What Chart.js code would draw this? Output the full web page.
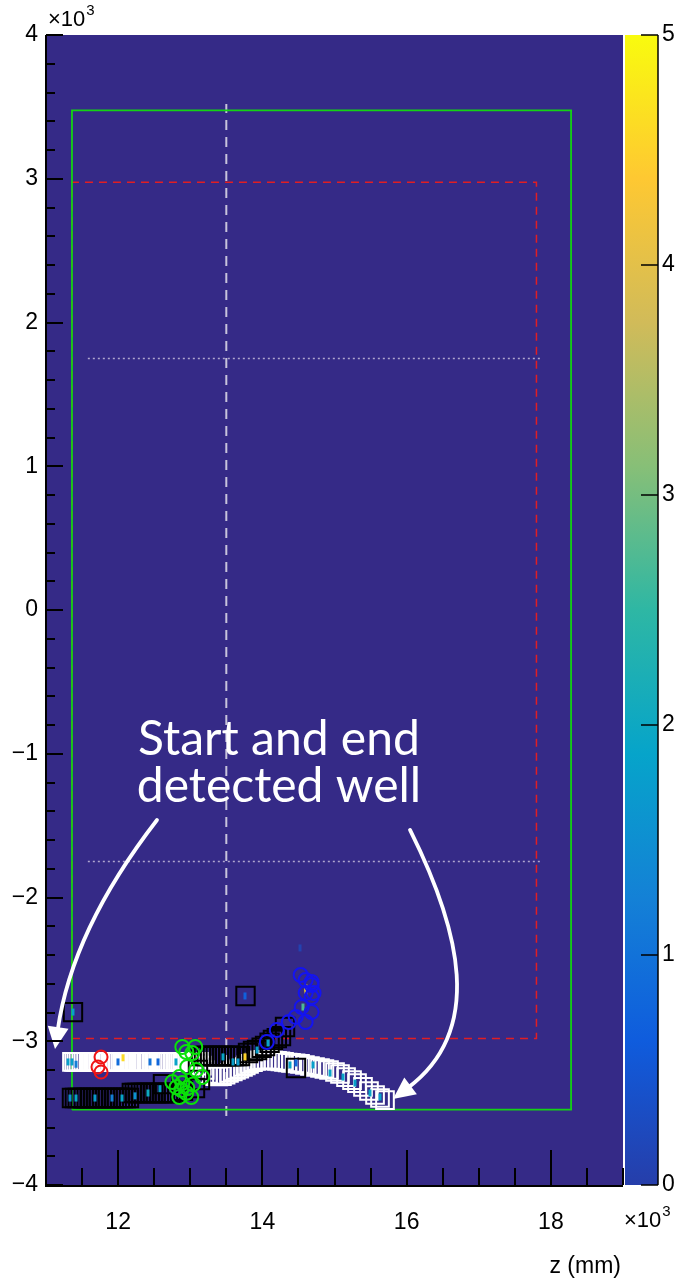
<!DOCTYPE html>
<html><head><meta charset="utf-8">
<script src="https://cdn.jsdelivr.net/npm/chart.js@4/dist/chart.umd.min.js"></script>
<style>html,body{margin:0;padding:0;background:#fff;}canvas{display:block;}</style>
</head><body>
<canvas id="c" width="678" height="1278"></canvas>
<script>
// ---------- axis ranges & tick labels ----------
const zRange = [11000, 19000];
const yRange = [-4000, 4000];
const colorRange = [0, 5000];
const xMajorTicks = [12000, 14000, 16000, 18000];
const yMajorTicks = [-4000, -3000, -2000, -1000, 0, 1000, 2000, 3000, 4000];
const colorTicks = [0, 1000, 2000, 3000, 4000, 5000];

// ---------- white open squares (track 1) ----------
const whiteZ = [11360,11390,11420,11450,11490,11520,11555,11590,11620,11655,11690,11720,11755,11790,11820,11855,11890,11920,11955,11990,12030,12060,12090,12120,12155,12190,12220,12255,12290,12320,12355,12390,12420,12480,12520,12560,12590,12620,12655,12690,12720,12755,12790,12830,12860,12890,12920,12955,12990,13020,13055,13090,13120,13160,13200,
  13246,13300,13343,13390,13440,13490,13537,13590,13634,13680,13731,13770,13815,
  13870,13912,13960,14009,14060,14106,14150,14203,14250,14300,14350,14397,14460,
  14522,14590,14660,14730,14799,14860,14924,15007,15076,15160,15243,15312,15395,15478,15562,15631,15700];
const whiteY = [-3144,-3144,-3144,-3144,-3144,-3144,-3144,-3144,-3144,-3144,-3144,-3144,-3144,-3144,-3144,-3144,-3144,-3144,-3144,-3144,-3144,-3144,-3144,-3144,-3144,-3144,-3144,-3144,-3144,-3144,-3144,-3144,-3144,-3144,-3144,-3144,-3144,-3144,-3144,-3144,-3144,-3144,-3144,-3144,-3144,-3144,-3144,-3144,-3144,-3144,-3144,-3144,-3144,-3170,-3200,
  -3228,-3236,-3242,-3244,-3242,-3232,-3221,-3210,-3200,-3190,-3179,-3168,-3158,
  -3146,-3137,-3133,-3130,-3130,-3130,-3133,-3137,-3140,-3144,-3148,-3151,-3154,
  -3158,-3165,-3172,-3179,-3186,-3193,-3200,-3214,-3228,-3249,-3270,-3291,-3318,-3346,-3374,-3395,-3409];

// ---------- black open squares (track 2) ----------
const blackZ = [11360,11400,11440,11480,11525,11565,11605,11650,11690,11730,11775,11815,11855,11900,11940,11980,12025,12065,12105,12150,
  12190,12230,12270,12315,12355,12395,12440,12480,12520,12565,12605,12645,12690,12730,12770,12622,
  12900,13066,13135,13107,
  13150,13190,13230,13275,13315,13355,13400,13440,13480,13525,13565,13605,13650,13690,
  13801,13870,13926,13990,14037,14100,14147,14200,14258,14314,
  11374,13766,14466];
const blackY = [-3395,-3395,-3395,-3395,-3395,-3395,-3395,-3395,-3395,-3395,-3395,-3395,-3395,-3395,-3395,-3395,-3395,-3395,-3395,-3395,
  -3360,-3360,-3360,-3360,-3360,-3360,-3360,-3360,-3360,-3360,-3360,-3360,-3360,-3360,-3360,-3298,
  -3345,-3325,-3270,-3200,
  -3103,-3103,-3103,-3103,-3103,-3103,-3103,-3103,-3103,-3103,-3103,-3103,-3103,-3103,
  -3082,-3068,-3061,-3045,-3033,-3010,-2991,-2978,-2964,-2901,
  -2797,-2685,-3186];

// ---------- circles ----------
const redZ = [11763, 11721, 11763];
const redY = [-3110, -3179, -3214];
const greenZ = [12890,13069,13028,12945,12959,13083,13166,12752,12848,12890,12876,12945,13014,12848,12959,12810,13040];
const greenY = [-3040,-3040,-3082,-3075,-3179,-3200,-3249,-3284,-3249,-3291,-3339,-3360,-3388,-3388,-3325,-3320,-3300];
const blueZ = [14531,14600,14683,14683,14710,14600,14683,14545,14683,14600,14462,14366,14200,14062];
const blueY = [-2539,-2574,-2588,-2609,-2664,-2664,-2692,-2762,-2797,-2866,-2831,-2866,-2922,-3005];

// ---------- histogram cells (z, y, counts) ----------
const hitZ = [11305,11360,11416,11998,12068,12442,12553,12802,
  11333,11416,11679,11915,12054,12234,12414,12580,11374,
  13593,13759,13926,14078,13454,13662,
  14383,14466,14702,14938,15118,15284,15492,15631,
  14563,14605,14605,13759,14522];
const hitY = [-3144,-3144,-3160,-3144,-3115,-3144,-3144,-3144,
  -3395,-3395,-3395,-3395,-3395,-3380,-3360,-3330,-2797,
  -3144,-3109,-3061,-3012,-3109,-3144,
  -3165,-3151,-3165,-3221,-3249,-3291,-3360,-3388,
  -2762,-2657,-2630,-2685,-2351];
const hitV = [1800,1800,1200,900,4600,1000,800,1900,
  1500,1900,1700,1200,1900,1600,2000,1800,1800,
  1800,4500,1800,1900,1900,1700,
  1900,900,1800,1900,1900,1800,1900,1800,
  2700,4700,4500,700,300];

// ---------- overlay geometry (data units) ----------
const greenBoxZ = [11360, 18280];
const greenBoxY = [-3475, 3475];
const redBoxZ = [11360, 17800];
const redBoxY = [-2980, 2975];
const vLineZ = 13500;
const vLineY = [-3520, 3520];
const hLineY = [1750, -1750];
const hLineZ = [11580, 17860];

// ---------- annotation (data units) ----------
const noteLines = ['Start and end', 'detected well'];
const noteZ = 14230;
const noteY = [-1009, -1336];
const leftArrow = [[12539,-1461],[11360,-2226],[11125,-3054]];
const rightArrow = [[16047,-1530],[16740,-2226],[17087,-2922],[15811,-3402]];

// ---------- colours ----------
const BG = 'rgb(53,42,135)';
const birdStops = [0,0.125,0.25,0.375,0.5,0.625,0.75,0.875,1];
const birdR = [0.2082,0.0592,0.0780,0.0232,0.1802,0.5301,0.8186,0.9956,0.9764];
const birdG = [0.1664,0.3599,0.5041,0.6419,0.7178,0.7492,0.7328,0.7862,0.9832];
const birdB = [0.5293,0.8684,0.8385,0.7914,0.6425,0.4662,0.3499,0.1968,0.0539];
function birdColor(f){
  f = Math.max(0, Math.min(1, f));
  let i = 0; while (i < birdStops.length-2 && f > birdStops[i+1]) i++;
  const t = (f - birdStops[i])/(birdStops[i+1]-birdStops[i]);
  const c = a => Math.round(255*(a[i] + t*(a[i+1]-a[i])));
  return `rgb(${c(birdR)},${c(birdG)},${c(birdB)})`;
}
const zip = (xs, ys) => xs.map((x,i)=>({x, y: ys[i]}));
const rectPts = (zs, ys) => [{x:zs[0],y:ys[0]},{x:zs[1],y:ys[0]},{x:zs[1],y:ys[1]},{x:zs[0],y:ys[1]},{x:zs[0],y:ys[0]}];

const AXFONT = '"Liberation Sans", Arial, sans-serif';

const decor = {
  id: 'decor',
  beforeDraw(chart){
    const {ctx, chartArea:a} = chart;
    ctx.save();
    ctx.fillStyle = '#fff'; ctx.fillRect(0,0,chart.width,chart.height);
    ctx.fillStyle = BG; ctx.fillRect(a.left, a.top, a.right-a.left, a.bottom-a.top);
    ctx.restore();
  },
  afterDatasetsDraw(chart){
    const {ctx, scales:{x, y}} = chart;
    const P = p => [x.getPixelForValue(p[0]), y.getPixelForValue(p[1])];
    ctx.save();
    // annotation text
    ctx.fillStyle = '#fff';
    ctx.font = '48px Lato, "Open Sans", sans-serif';
    ctx.textAlign = 'center'; ctx.textBaseline = 'alphabetic';
    noteLines.forEach((t,i)=> ctx.fillText(t, x.getPixelForValue(noteZ), y.getPixelForValue(noteY[i])));
    // arrows
    ctx.strokeStyle = '#fff'; ctx.lineWidth = 3.8; ctx.lineCap = 'round';
    function head(tip, from){
      const dx = tip[0]-from[0], dy = tip[1]-from[1], L = Math.hypot(dx,dy);
      const ux = dx/L, uy = dy/L, len = 22, hw = 10.5;
      const bx = tip[0]-ux*len, by = tip[1]-uy*len;
      ctx.beginPath();
      ctx.moveTo(tip[0], tip[1]);
      ctx.lineTo(bx - uy*hw, by + ux*hw);
      ctx.lineTo(bx + uy*hw, by - ux*hw);
      ctx.closePath(); ctx.fill();
      return [bx + ux*3, by + uy*3];
    }
    {
      const [p0,c,p2] = leftArrow.map(P);
      const end = head(p2, c);
      ctx.beginPath(); ctx.moveTo(...p0); ctx.quadraticCurveTo(c[0],c[1],end[0],end[1]); ctx.stroke();
    }
    {
      const [p0,c1,c2,p3] = rightArrow.map(P);
      const end = head(p3, c2);
      ctx.beginPath(); ctx.moveTo(...p0); ctx.bezierCurveTo(c1[0],c1[1],c2[0],c2[1],end[0],end[1]); ctx.stroke();
    }
    ctx.restore();
  },
  afterDraw(chart){
    const {ctx, chartArea:a, scales:{x, y}} = chart;
    ctx.save();
    ctx.strokeStyle = '#000'; ctx.lineWidth = 2;
    // x ticks (inside)
    x.ticks.forEach(t=>{
      const px = Math.round(x.getPixelForValue(t.value));
      const major = xMajorTicks.includes(t.value);
      const L = major ? 35 : 17;
      ctx.beginPath(); ctx.moveTo(px, a.bottom); ctx.lineTo(px, a.bottom - L); ctx.stroke();
    });
    y.ticks.forEach(t=>{
      const py = Math.round(y.getPixelForValue(t.value));
      const major = yMajorTicks.includes(t.value);
      const L = major ? 17 : 9;
      ctx.beginPath(); ctx.moveTo(a.left, py); ctx.lineTo(a.left + L, py); ctx.stroke();
    });
    // axis lines
    ctx.beginPath(); ctx.moveTo(a.left, a.top); ctx.lineTo(a.left, a.bottom+1); ctx.lineTo(a.right, a.bottom+1); ctx.stroke();

    // colour bar
    const cx0 = a.right + 2, cx1 = a.right + 35;
    const g = ctx.createLinearGradient(0, a.bottom, 0, a.top);
    g.addColorStop(0, birdColor(0.05));
    birdStops.slice(1).forEach(s=> g.addColorStop(s, birdColor(s)));
    ctx.fillStyle = g; ctx.fillRect(cx0, a.top, cx1-cx0, a.bottom-a.top);
    ctx.strokeStyle = '#000'; ctx.lineWidth = 1.5;
    ctx.beginPath(); ctx.moveTo(cx1, a.top); ctx.lineTo(cx1, a.bottom); ctx.stroke();
    ctx.fillStyle = '#000';
    ctx.font = '23px ' + AXFONT;
    ctx.textAlign = 'left'; ctx.textBaseline = 'middle';
    const cpix = v => a.bottom - (v - colorRange[0])/(colorRange[1]-colorRange[0])*(a.bottom-a.top);
    colorTicks.forEach(v=>{
      const py = Math.round(cpix(v));
      ctx.beginPath(); ctx.moveTo(cx1, py); ctx.lineTo(cx1 - 17, py); ctx.stroke();
      ctx.fillText(String(v/1000), cx1 + 4, py);
    });
    // multipliers and axis title
    function times(xp, yp){
      ctx.textAlign = 'left'; ctx.textBaseline = 'alphabetic';
      ctx.font = '22px ' + AXFONT;
      ctx.fillText('\u00d710', xp, yp);
      const w = ctx.measureText('\u00d710').width;
      ctx.font = '15px ' + AXFONT;
      ctx.fillText('3', xp + w + 1, yp - 11);
    }
    times(a.left + 2, a.top - 9);
    times(a.right + 1, a.bottom + 42);
    ctx.font = '23px ' + AXFONT;
    ctx.textAlign = 'right'; ctx.textBaseline = 'alphabetic';
    ctx.fillText('z (mm)', a.right - 2, a.bottom + 88);
    ctx.restore();
  }
};

const datasets = [
  { label:'red', data: zip(redZ, redY), pointStyle:'circle', pointRadius:6.5, pointBorderColor:'rgb(240,20,20)', pointBorderWidth:2, backgroundColor:'rgba(0,0,0,0)', borderColor:'rgb(240,20,20)', order:1 },
  { label:'green', data: zip(greenZ, greenY), pointStyle:'circle', pointRadius:7, pointBorderColor:'rgb(10,225,10)', pointBorderWidth:2, backgroundColor:'rgba(0,0,0,0)', borderColor:'rgb(10,225,10)', order:1 },
  { label:'blue', data: zip(blueZ, blueY), pointStyle:'circle', pointRadius:7, pointBorderColor:'rgb(20,20,240)', pointBorderWidth:2, backgroundColor:'rgba(0,0,0,0)', borderColor:'rgb(20,20,240)', order:1 },
  { label:'hits', data: zip(hitZ, hitY), pointStyle:'line', pointRotation:90, pointRadius:3.5, pointBorderWidth:3,
    pointBorderColor: hitV.map(v=>birdColor((v-colorRange[0])/(colorRange[1]-colorRange[0]))), order:2 },
  { label:'black', data: zip(blackZ, blackY), pointStyle:'rect', pointRadius:13, pointBorderColor:'#000', pointBorderWidth:2, backgroundColor:'rgba(0,0,0,0)', borderColor:'#000', order:3 },
  { label:'white', data: zip(whiteZ, whiteY), pointStyle:'rect', pointRadius:12.5, pointBorderColor:'#fff', pointBorderWidth:2, backgroundColor:'rgba(0,0,0,0)', borderColor:'#fff', order:4 },
  { label:'greenBox', data: rectPts(greenBoxZ, greenBoxY), showLine:true, borderColor:'rgb(20,210,20)', borderWidth:1.8, pointRadius:0, order:5 },
  { label:'redBox', data: rectPts(redBoxZ, redBoxY), showLine:true, borderColor:'rgb(225,30,35)', borderWidth:1.5, borderDash:[8,6], pointRadius:0, order:6 },
  { label:'vline', data: [{x:vLineZ,y:vLineY[0]},{x:vLineZ,y:vLineY[1]}], showLine:true, borderColor:'rgb(200,196,220)', borderWidth:2, borderDash:[10,7], pointRadius:0, order:7 },
  { label:'hline1', data: [{x:hLineZ[0],y:hLineY[0]},{x:hLineZ[1],y:hLineY[0]}], showLine:true, borderColor:'rgba(190,180,215,0.9)', borderWidth:1.5, borderDash:[2,3], pointRadius:0, order:7 },
  { label:'hline2', data: [{x:hLineZ[0],y:hLineY[1]},{x:hLineZ[1],y:hLineY[1]}], showLine:true, borderColor:'rgba(190,180,215,0.9)', borderWidth:1.5, borderDash:[2,3], pointRadius:0, order:7 }
];

new Chart(document.getElementById('c'), {
  type: 'scatter',
  data: { datasets },
  plugins: [decor],
  options: {
    responsive: false, animation: false, devicePixelRatio: 1,
    layout: { padding: { left:0, top:35, right:55, bottom:0 } },
    plugins: { legend:{display:false}, tooltip:{enabled:false} },
    elements: { line: { tension: 0 } },
    scales: {
      x: {
        type:'linear', min: zRange[0], max: zRange[1],
        grid: { display:false, drawTicks:false }, border: { display:false },
        ticks: { stepSize:500, autoSkip:false, maxRotation:0, minRotation:0, padding:24, color:'#000',
          font:{ family: AXFONT, size:23 },
          callback: v => xMajorTicks.includes(v) ? String(v/1000) : '' },
        afterFit: s => { s.height = 93; }
      },
      y: {
        type:'linear', min: yRange[0], max: yRange[1],
        grid: { display:false, drawTicks:false }, border: { display:false },
        ticks: { stepSize:200, autoSkip:false, padding:8, color:'#000',
          font:{ family: AXFONT, size:23 },
          callback: v => yMajorTicks.includes(v) ? (v < 0 ? '\u2212' : '') + Math.abs(v/1000) : '' },
        afterFit: s => { s.width = 46; }
      }
    }
  }
});
</script>
</body></html>
